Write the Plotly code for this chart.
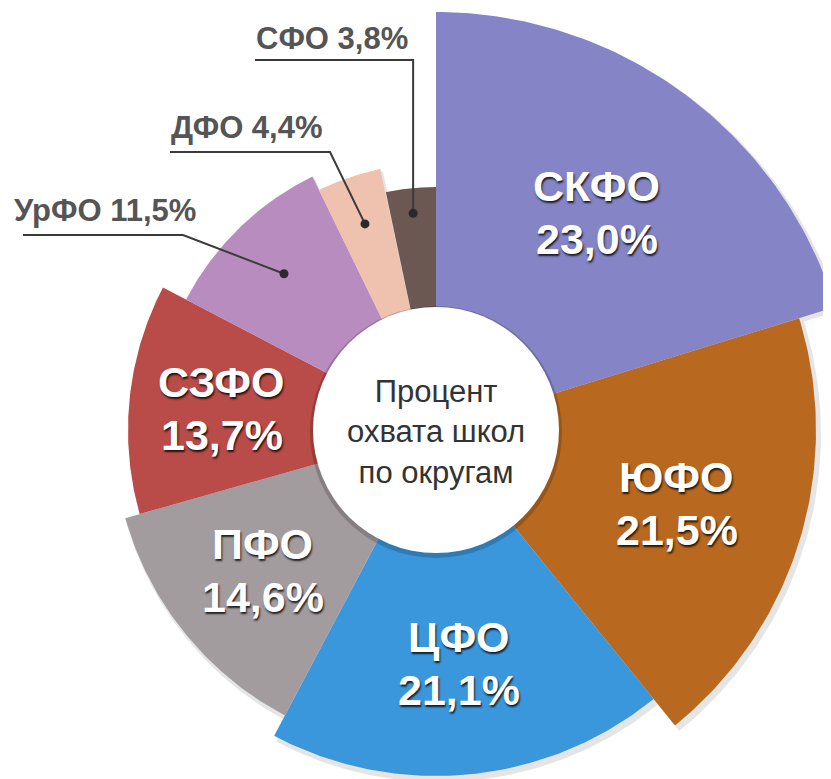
import numpy as np
import plotly.graph_objects as go

# ---- data ----
regions = ["СКФО", "ЮФО", "ЦФО", "ПФО", "СЗФО", "УрФО", "ДФО", "СФО"]
shares = [23.0, 21.5, 21.1, 14.6, 13.7, 11.5, 4.4, 3.8]
center_title = "Процент<br>охвата школ<br>по округам"

# ---- styling ----
colors = ["#8484C6", "#B8681F", "#3B97DC", "#A39C9F", "#B94B49", "#B98CC0", "#EFC2B0", "#6B5852"]
outer_px = [418, 380, 346, 323, 308, 282, 267, 243]   # slice outer radius (px)
inside_label = [True, True, True, True, True, False, False, False]
# outside label placement: (text left x, text center y, underline start x, underline end x, underline y)
outside_pos = {
    "УрФО": (12, 210, 23, 183, 235),
    "ДФО": (169, 127, 170, 330, 152),
    "СФО": (254, 38, 255, None, 60),
}
CX, CY, HOLE = 436, 430, 123
W, H = 831, 779
OFF = 8  # page body margin
FONT = "Arial, Liberation Sans, sans-serif"


def pct(v):
    return f"{v:.1f}%".replace(".", ",")


total = sum(shares)
bounds = np.concatenate([[0.0], np.cumsum(shares)]) / total * 360.0


def pt(a_deg, r):
    a = np.radians(a_deg)
    return CX + r * np.sin(a), CY - r * np.cos(a)


fig = go.Figure()

# soft shadows
for i in range(len(regions)):
    a = np.linspace(bounds[i], bounds[i + 1], 90)
    xs, ys = pt(a, outer_px[i] + 2)
    fig.add_trace(go.Scatter(
        x=[CX + 3] + list(xs + 3) + [CX + 3], y=[CY + 4] + list(ys + 4) + [CY + 4],
        fill="toself", fillcolor="rgba(0,0,0,0.10)", line=dict(width=0),
        mode="lines", hoverinfo="skip", showlegend=False))

# slices
for i, name in enumerate(regions):
    a = np.linspace(bounds[i], bounds[i + 1], 90)
    xs, ys = pt(a, outer_px[i])
    fig.add_trace(go.Scatter(
        x=[CX] + list(xs) + [CX], y=[CY] + list(ys) + [CY],
        fill="toself", fillcolor=colors[i], line=dict(width=0),
        mode="lines", name=name, hoverinfo="skip", showlegend=False))

shapes = []
annotations = []

# center circle with shadow
shapes.append(dict(type="circle", xref="x", yref="y", x0=CX - HOLE - 3, x1=CX + HOLE + 3,
                   y0=CY - HOLE - 1, y1=CY + HOLE + 5, fillcolor="rgba(0,0,0,0.18)",
                   line=dict(width=0), layer="above"))
shapes.append(dict(type="circle", xref="x", yref="y", x0=CX - HOLE, x1=CX + HOLE,
                   y0=CY - HOLE, y1=CY + HOLE, fillcolor="white",
                   line=dict(width=0), layer="above"))
annotations.append(dict(x=CX, y=CY + 2, xref="x", yref="y", text=center_title, showarrow=False,
                        font=dict(family=FONT, size=31, color="#333333"), align="center"))

shadow = "1px 2px 2px rgba(0,0,0,0.8)"
for i, name in enumerate(regions):
    mid = (bounds[i] + bounds[i + 1]) / 2
    if inside_label[i]:
        lx, ly = pt(mid, (HOLE + outer_px[i]) / 2)
        annotations.append(dict(x=lx, y=ly - 26, xref="x", yref="y", text=f"<b>{name}</b>",
                                showarrow=False,
                                font=dict(family=FONT, size=43, color="white", shadow=shadow)))
        annotations.append(dict(x=lx, y=ly + 27, xref="x", yref="y", text=f"<b>{pct(shares[i])}</b>",
                                showarrow=False,
                                font=dict(family=FONT, size=43, color="white", shadow=shadow)))
    else:
        tx, ty, ux0, ux1, uy = outside_pos[name]
        dx, dy = pt(mid, 218)
        if ux1 is None:
            ux1 = dx
        annotations.append(dict(x=tx, y=ty, xref="x", yref="y", xanchor="left", yanchor="middle",
                                text=f"<b>{name} {pct(shares[i])}</b>", showarrow=False,
                                font=dict(family=FONT, size=31, color="#555555")))
        shapes.append(dict(type="path", xref="x", yref="y",
                           path=f"M {ux0},{uy} L {ux1},{uy} L {dx},{dy}",
                           line=dict(color="#3a3a3a", width=2), layer="above"))
        shapes.append(dict(type="circle", xref="x", yref="y", x0=dx - 4.5, x1=dx + 4.5,
                           y0=dy - 4.5, y1=dy + 4.5, fillcolor="#2a2a2a",
                           line=dict(width=0), layer="above"))

fig.update_layout(
    width=W, height=H,
    margin=dict(l=0, r=0, t=0, b=0),
    paper_bgcolor="white", plot_bgcolor="white",
    xaxis=dict(range=[OFF, W + OFF], visible=False, fixedrange=True),
    yaxis=dict(range=[H + OFF, OFF], visible=False, fixedrange=True),
    shapes=shapes, annotations=annotations,
    showlegend=False,
)

fig.write_html("out.html")
